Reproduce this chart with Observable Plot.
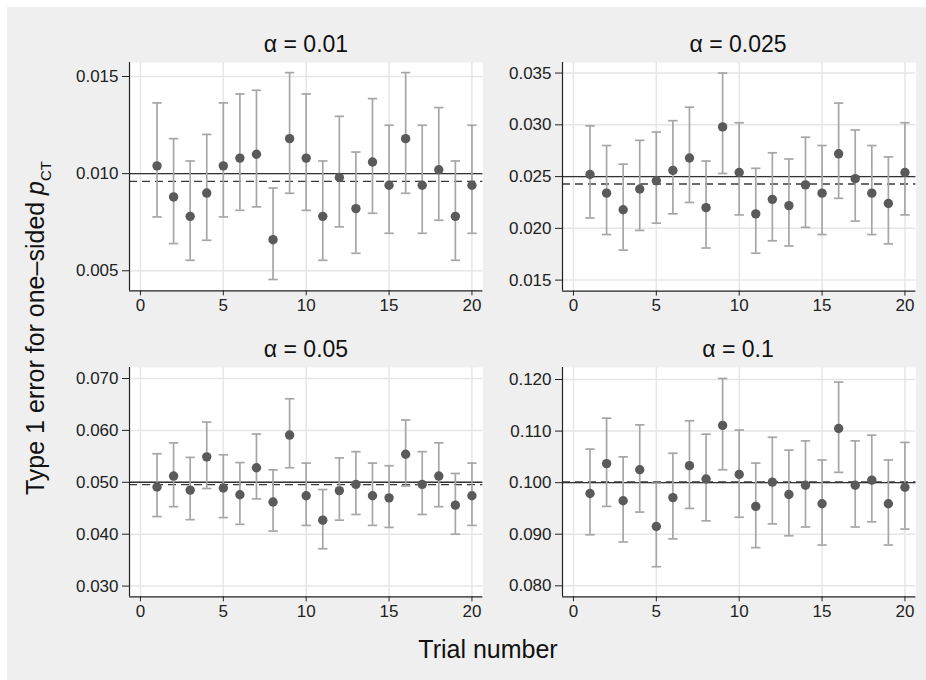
<!DOCTYPE html>
<html>
<head>
<meta charset="utf-8">
<script src="https://cdn.jsdelivr.net/npm/d3@7"></script>
<script src="https://cdn.jsdelivr.net/npm/@observablehq/plot@0.6"></script>
<style>
  html, body { margin: 0; padding: 0; background: #ffffff; }
  #wrap { position: relative; width: 926px; height: 680px; overflow: hidden; background: #ffffff; }
  #bg { position: absolute; left: 7px; top: 7px; right: 0px; bottom: 0px; background: #efefef; }
  .panel { position: absolute; }
  #overlay { position: absolute; left: 0; top: 0; pointer-events: none; }
  text { font-family: "Liberation Sans", Arial, Helvetica, sans-serif; }
</style>
</head>
<body>
<div id="wrap">
  <div id="bg"></div>
</div>
<script>
// ---- Data ----
const trials = [1,2,3,4,5,6,7,8,9,10,11,12,13,14,15,16,17,18,19,20];
const alphas = [0.01, 0.025, 0.05, 0.1];
const alphaLabels = ["α = 0.01", "α = 0.025", "α = 0.05", "α = 0.1"];
const meanRate = [0.0096, 0.02429, 0.04955, 0.10012];

const p01  = [0.0104,0.0088,0.0078,0.0090,0.0104,0.0108,0.0110,0.0066,0.0118,0.0108,0.0078,0.0098,0.0082,0.0106,0.0094,0.0118,0.0094,0.0102,0.0078,0.0094];
const lo01 = [0.00777,0.0064,0.00554,0.00657,0.00777,0.00811,0.00829,0.00455,0.00899,0.00811,0.00554,0.00726,0.0059,0.00796,0.00693,0.00899,0.00693,0.0076,0.00554,0.00693];
const hi01 = [0.01364,0.0118,0.01065,0.01202,0.01364,0.0141,0.01429,0.00926,0.0152,0.0141,0.01065,0.01295,0.01111,0.01386,0.01249,0.0152,0.01249,0.0134,0.01065,0.01249];

const p025  = [0.0252,0.0234,0.0218,0.0238,0.0246,0.0256,0.0268,0.0220,0.0298,0.0254,0.0214,0.0228,0.0222,0.0242,0.0234,0.0272,0.0248,0.0234,0.0224,0.0254];
const lo025 = [0.0210,0.0194,0.0179,0.0198,0.0205,0.0214,0.0225,0.0181,0.0253,0.0213,0.0176,0.0188,0.0183,0.0201,0.0194,0.0229,0.0207,0.0194,0.0185,0.0213];
const hi025 = [0.0299,0.0280,0.0262,0.0285,0.0293,0.0304,0.0317,0.0265,0.0350,0.0302,0.0258,0.0273,0.0267,0.0288,0.0280,0.0321,0.0295,0.0280,0.0269,0.0302];

const p05  = [0.0491,0.0512,0.0485,0.0549,0.0489,0.0476,0.0528,0.0462,0.0591,0.0474,0.0427,0.0484,0.0496,0.0474,0.0470,0.0554,0.0496,0.0512,0.0456,0.0474];
const lo05 = [0.0434,0.0453,0.0428,0.0488,0.0432,0.0419,0.0468,0.0406,0.0528,0.0417,0.0372,0.0427,0.0438,0.0417,0.0413,0.0493,0.0438,0.0453,0.0400,0.0417];
const hi05 = [0.0555,0.0576,0.0548,0.0616,0.0553,0.0538,0.0593,0.0524,0.0661,0.0537,0.0486,0.0547,0.0559,0.0537,0.0532,0.0620,0.0559,0.0576,0.0517,0.0537];

const p10  = [0.0979,0.1037,0.0965,0.1025,0.0915,0.0971,0.1033,0.1007,0.1111,0.1016,0.0954,0.1001,0.0977,0.0995,0.0959,0.1105,0.0995,0.1005,0.0959,0.0991];
const lo10 = [0.0899,0.0954,0.0885,0.0943,0.0837,0.0891,0.0950,0.0926,0.1025,0.0933,0.0874,0.0920,0.0897,0.0914,0.0879,0.1020,0.0914,0.0924,0.0879,0.0910];
const hi10 = [0.1065,0.1125,0.1050,0.1112,0.0999,0.1057,0.1120,0.1094,0.1202,0.1102,0.1038,0.1088,0.1063,0.1081,0.1044,0.1195,0.1081,0.1092,0.1044,0.1078];

const xTicks = [0, 5, 10, 15, 20];
const yTicks01  = [0.005, 0.010, 0.015];
const yTicks025 = [0.015, 0.020, 0.025, 0.030, 0.035];
const yTicks05  = [0.030, 0.040, 0.050, 0.060, 0.070];
const yTicks10  = [0.080, 0.090, 0.100, 0.110, 0.120];

// ---- Build ----
const FONT = '"Liberation Sans", Arial, Helvetica, sans-serif';
const capSymbol = { draw(ctx) { ctx.moveTo(-4.7, 0); ctx.lineTo(4.7, 0); } };

const panels = [
  { p: p01,  lo: lo01,  hi: hi01,  ticks: yTicks01,  dom: [0.00397, 0.01572], left: 129.3, top: 61.7,  h: 228.3 },
  { p: p025, lo: lo025, hi: hi025, ticks: yTicks025, dom: [0.01394, 0.03602], left: 561.7, top: 61.7,  h: 228.6 },
  { p: p05,  lo: lo05,  hi: hi05,  ticks: yTicks05,  dom: [0.02794, 0.07212], left: 129.3, top: 366.7, h: 229.3 },
  { p: p10,  lo: lo10,  hi: hi10,  ticks: yTicks10,  dom: [0.07787, 0.12233], left: 561.7, top: 366.7, h: 229.3 }
];

const ML = 75, MR = 8, MT = 5, MB = 30, PW = 353.4;
const wrap = document.getElementById("wrap");

panels.forEach((pn, i) => {
  const data = trials.map((t, j) => ({ trial: t, p: pn.p[j], lo: pn.lo[j], hi: pn.hi[j] }));
  const chart = Plot.plot({
    width: PW + ML + MR,
    height: pn.h + MT + MB,
    marginLeft: ML, marginRight: MR, marginTop: MT, marginBottom: MB,
    style: { background: "transparent", fontFamily: FONT, fontSize: "17px", color: "#222" },
    x: { domain: [-0.66, 20.66], label: null },
    y: { domain: pn.dom, label: null },
    marks: [
      Plot.frame({ fill: "#ffffff", stroke: null }),
      Plot.gridX(xTicks, { stroke: "#e6e6e6", strokeOpacity: 1, strokeWidth: 1.5 }),
      Plot.gridY(pn.ticks, { stroke: "#e6e6e6", strokeOpacity: 1, strokeWidth: 1.5 }),
      Plot.ruleY([meanRate[i]], { stroke: "#3a3a3a", strokeWidth: 1.4, strokeDasharray: "8,5" }),
      Plot.ruleY([alphas[i]], { stroke: "#333333", strokeWidth: 1.4 }),
      Plot.ruleX(data, { x: "trial", y1: "lo", y2: "hi", stroke: "#a6a6a6", strokeWidth: 1.7 }),
      Plot.dot(data, { x: "trial", y: "lo", symbol: capSymbol, fill: "none", stroke: "#a6a6a6", strokeWidth: 1.7 }),
      Plot.dot(data, { x: "trial", y: "hi", symbol: capSymbol, fill: "none", stroke: "#a6a6a6", strokeWidth: 1.7 }),
      Plot.dot(data, { x: "trial", y: "p", r: 4.7, fill: "#5a5a5a", stroke: null }),
      Plot.ruleY([pn.dom[0]], { stroke: "#222", strokeWidth: 1.2 }),
      Plot.ruleX([-0.66], { stroke: "#222", strokeWidth: 1.2 }),
      Plot.axisX(xTicks, { tickSize: 5, tickPadding: 3, label: null, tickFormat: d => String(d) }),
      Plot.axisY(pn.ticks, { tickSize: 7, tickPadding: 4, label: null, tickFormat: d3.format(".3f") })
    ]
  });
  chart.classList.add("panel");
  chart.style.left = (pn.left - ML) + "px";
  chart.style.top = (pn.top - MT) + "px";
  wrap.appendChild(chart);
});

// ---- Titles and axis labels ----
const ns = "http://www.w3.org/2000/svg";
const ov = document.createElementNS(ns, "svg");
ov.setAttribute("id", "overlay");
ov.setAttribute("width", 926);
ov.setAttribute("height", 680);
wrap.appendChild(ov);

function addText(str, x, y, size, opts = {}) {
  const t = document.createElementNS(ns, "text");
  t.setAttribute("x", x); t.setAttribute("y", y);
  t.setAttribute("text-anchor", "middle");
  t.setAttribute("font-size", size);
  t.setAttribute("fill", "#111");
  if (opts.transform) t.setAttribute("transform", opts.transform);
  t.textContent = str;
  ov.appendChild(t);
  return t;
}
const titlePos = [[306, 51.7], [738, 51.7], [306, 356.7], [738, 356.7]];
alphaLabels.forEach((s, i) => addText(s, titlePos[i][0], titlePos[i][1], 23));

addText("Trial number", 488, 658, 25);

const yl = document.createElementNS(ns, "text");
yl.setAttribute("transform", "translate(44,328) rotate(-90)");
yl.setAttribute("text-anchor", "middle");
yl.setAttribute("font-size", 25);
yl.setAttribute("fill", "#111");
yl.appendChild(document.createTextNode("Type 1 error for one–sided "));
const tp = document.createElementNS(ns, "tspan");
tp.setAttribute("font-style", "italic");
tp.textContent = "p";
yl.appendChild(tp);
const ts = document.createElementNS(ns, "tspan");
ts.setAttribute("font-size", 15);
ts.setAttribute("dy", 7);
ts.textContent = "CT";
yl.appendChild(ts);
ov.appendChild(yl);
</script>
</body>
</html>
